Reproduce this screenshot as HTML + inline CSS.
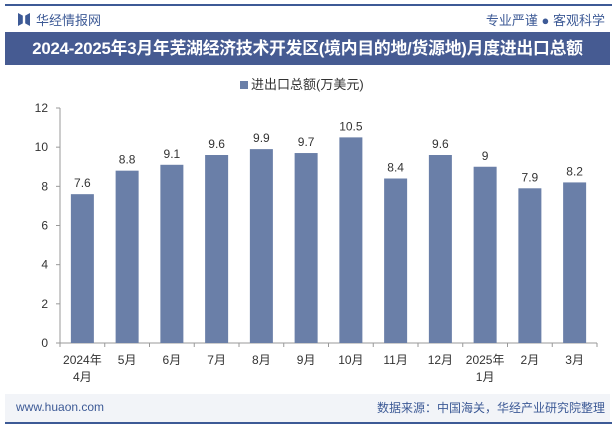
<!DOCTYPE html>
<html><head><meta charset="utf-8"><style>
body{margin:0;width:615px;height:427px;background:#fff;font-family:"Liberation Sans","Noto Sans CJK SC",sans-serif;overflow:hidden;position:relative}
.abs{position:absolute}
</style></head><body>
<div class="abs" style="left:5px;top:4px;width:607px;height:2px;background:#3d5a96"></div>
<div class="abs" style="left:18px;top:13px;width:12px;height:13px;background:#3d5a96;clip-path:polygon(0 0,40% 20%,40% 80%,0 100%,0 0,100% 0,100% 100%,60% 80%,60% 20%,100% 0)"></div>
<div class="abs" style="left:36px;top:10px;font-size:13px;color:#3d5a96">华经情报网</div>
<div class="abs" style="right:10px;top:10px;font-size:13px;color:#3d5a96">专业严谨 ● 客观科学</div>
<div class="abs" style="left:5px;top:32px;width:605px;height:33px;background:#465b92;color:#fff;font-weight:bold;font-size:16.8px;line-height:33px;text-align:center;white-space:nowrap;letter-spacing:-0.2px">2024-2025年3月年芜湖经济技术开发区(境内目的地/货源地)月度进出口总额</div>
<div class="abs" style="left:240px;top:74px;font-size:13px;color:#333"><span style="display:inline-block;width:8px;height:8px;background:#6a7fa8;margin-right:3px"></span>进出口总额(万美元)</div>
<svg class="abs" style="left:0;top:0" width="615" height="427">
<g id="g"></g></svg>
<div class="abs" style="left:5px;top:394px;width:605px;height:28px;background:#f2f4f8"></div>
<div class="abs" style="left:16px;top:400px;font-size:12px;color:#3d5a96">www.huaon.com</div>
<div class="abs" style="right:10px;top:399px;font-size:12px;color:#3d5a96">数据来源：中国海关，华经产业研究院整理</div>
<div class="abs" style="left:5px;top:422px;width:607px;height:2px;background:#3d5a96"></div>
<script>
const categories=["2024年\n4月","5月","6月","7月","8月","9月","10月","11月","12月","2025年\n1月","2月","3月"];
const values=[7.6,8.8,9.1,9.6,9.9,9.7,10.5,8.4,9.6,9,7.9,8.2];
const yTicks=[0,2,4,6,8,10,12];
const x0=60,x1=597,yb=343,yt=108,ymax=12;
const y=v=>yb-(v/ymax)*(yb-yt);
const slot=(x1-x0)/categories.length;
const xc=i=>x0+slot*(i+0.5);
const g=document.getElementById('g');const NS='http://www.w3.org/2000/svg';
function mk(t,a,txt){const e=document.createElementNS(NS,t);for(const k in a)e.setAttribute(k,a[k]);if(txt!=null)e.textContent=txt;g.appendChild(e);return e;}
let ax=mk('line',{x1:x0,x2:x0,y1:yt,y2:yb,stroke:'#999'});


yTicks.forEach(t=>{
 const l=mk('line',{x1:x0-4,x2:x0,y1:y(t),y2:y(t),stroke:'#999'});
 
 
 const tx=mk('text',{x:x0-12,y:y(t)+4,'text-anchor':'end','font-size':12,fill:'#333'},t);
 
 
});
let xa=mk('line',{x1:x0,x2:x1,y1:yb,y2:yb,stroke:'#999'});


for(let i=0;i<=categories.length;i++){
 const l=mk('line',{x1:x0+slot*i,x2:x0+slot*i,y1:yb,y2:yb+4,stroke:'#999'});
 
 
}
values.forEach((v,i)=>{
 const b=mk('rect',{x:xc(i)-11.5,y:y(v),width:23,height:yb-y(v),fill:'#6a7fa8'});
 
 
 const t=mk('text',{x:xc(i),y:y(v)-7,'text-anchor':'middle','font-size':12,fill:'#333'},v);
 
 
});
categories.forEach((c,i)=>{
 c.split('\n').forEach((p,j)=>{
  const t=mk('text',{x:xc(i),y:yb+21+j*17,'text-anchor':'middle','font-size':12,fill:'#333'},p);
  
  
 });
});
</script>
</body></html>
